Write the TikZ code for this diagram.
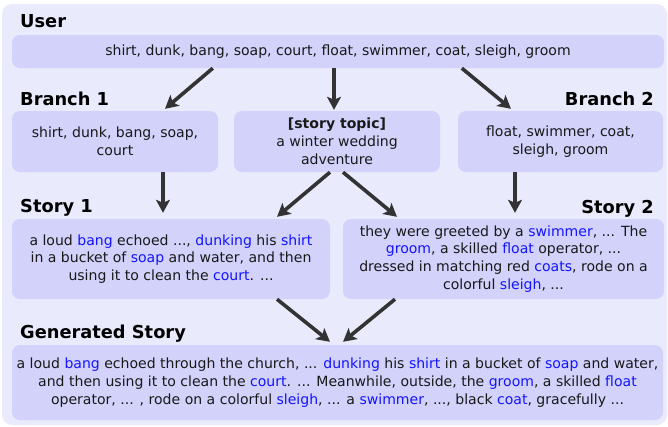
\documentclass[tikz,border=0pt]{standalone}
\usepackage{fontspec}
\setmainfont{DejaVu Sans}
\usetikzlibrary{arrows.meta}
\definecolor{bgc}{RGB}{234,234,253}
\definecolor{boxc}{RGB}{210,210,251}
\definecolor{kw}{RGB}{20,20,255}
\definecolor{arr}{RGB}{51,51,51}
\definecolor{txt}{RGB}{25,25,25}
\newcommand{\kwd}[1]{\textcolor{kw}{#1}}
\begin{document}
\begin{tikzpicture}[x=1pt,y=-1pt,
  box/.style={fill=boxc, rounded corners=8pt, draw=none, align=center, inner sep=0pt,
    font=\fontsize{14.05}{17.8}\selectfont, text=txt},
  head/.style={font=\fontsize{17.8}{20}\selectfont\bfseries, inner sep=0pt},
  arrowline/.style={draw=arr, line width=3.6pt, -{Stealth[length=13pt,width=14pt,inset=3pt]}}
]
\useasboundingbox (0,0) rectangle (668,426);
\fill[bgc, rounded corners=10pt] (2,4) rectangle (667,425);

\node[box, minimum width=652pt, minimum height=33pt] (user) at (338,51.5)
  {shirt, dunk, bang, soap, court, float, swimmer, coat, sleigh, groom};
\node[box, minimum width=206pt, minimum height=61pt] (b1) at (115,141.5)
  {shirt, dunk, bang, soap,\\court};
\node[box, minimum width=206pt, minimum height=61pt] (topic) at (337,141.5)
  {\textbf{[story topic]}\\a winter wedding\\adventure};
\node[box, minimum width=205pt, minimum height=61pt] (b2) at (560.5,141.5)
  {float, swimmer, coat,\\sleigh, groom};
\node[box, minimum width=318pt, minimum height=80pt] (s1) at (171,259)
  {a loud \kwd{bang} echoed ..., \kwd{dunking} his \kwd{shirt}\\
   in a bucket of \kwd{soap} and water, and then\\
   using it to clean the \kwd{court}. ...};
\node[box, minimum width=321pt, minimum height=80pt] (s2) at (503.5,259)
  {they were greeted by a \kwd{swimmer}, ... The\\
   \kwd{groom}, a skilled \kwd{float} operator, ...\\
   dressed in matching red \kwd{coats}, rode on a\\
   colorful \kwd{sleigh}, ...};
\node[box, minimum width=651pt, minimum height=75pt] (gen) at (337.5,382.5)
  {a loud \kwd{bang} echoed through the church, ... \kwd{dunking} his \kwd{shirt} in a bucket of \kwd{soap} and water,\\
   and then using it to clean the \kwd{court}. ... Meanwhile, outside, the \kwd{groom}, a skilled \kwd{float}\\
   operator, ... , rode on a colorful \kwd{sleigh}, ... a \kwd{swimmer}, ..., black \kwd{coat}, gracefully ...};

\node[head, anchor=base west] (huser) at (20,27) {User};
\node[head, anchor=base west] (hb1) at (20,105) {Branch 1};
\node[head, anchor=base east] (hb2) at (654,105) {Branch 2};
\node[head, anchor=base west] (hs1) at (20,212) {Story 1};
\node[head, anchor=base east] (hs2) at (654,213) {Story 2};
\node[head, anchor=base west] (hgen) at (20,338) {Generated Story};

\draw[arrowline] ([xshift=201pt]user.south west) -- ([xshift=50pt,yshift=2pt]b1.north);
\draw[arrowline] ([xshift=-4pt]user.south) -- ([xshift=-3pt,yshift=1pt]topic.north);
\draw[arrowline] ([xshift=450pt]user.south west) -- ([xshift=-49.5pt,yshift=2pt]b2.north);
\draw[arrowline] ([xshift=48pt]b1.south) -- ([xshift=-8pt,yshift=6pt]s1.north);
\draw[arrowline] ([xshift=-7pt]topic.south) -- ([xshift=106pt,yshift=2pt]s1.north);
\draw[arrowline] ([xshift=6pt]topic.south) -- ([xshift=-106.5pt,yshift=2pt]s2.north);
\draw[arrowline] ([xshift=-45.5pt]b2.south) -- ([xshift=11.5pt,yshift=6pt]s2.north);
\draw[arrowline] ([xshift=106pt]s1.south) -- ([xshift=-7.5pt,yshift=3pt]gen.north);
\draw[arrowline] ([xshift=-108.5pt]s2.south) -- ([xshift=5.5pt,yshift=3pt]gen.north);
\end{tikzpicture}
\end{document}
